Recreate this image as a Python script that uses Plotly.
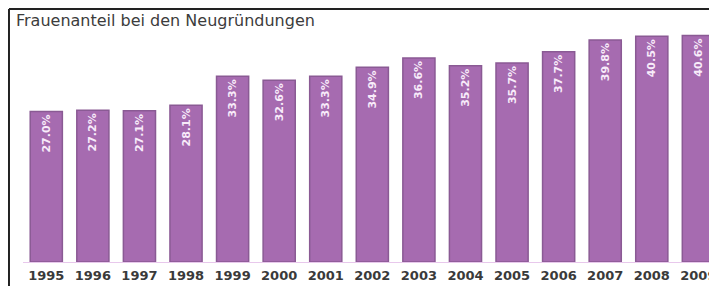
import plotly.graph_objects as go

years = ["1995", "1996", "1997", "1998", "1999", "2000", "2001", "2002",
         "2003", "2004", "2005", "2006", "2007", "2008", "2009"]
share = [27.0, 27.2, 27.1, 28.1, 33.3, 32.6, 33.3, 34.9,
         36.6, 35.2, 35.7, 37.7, 39.8, 40.5, 40.6]
labels = [f"{v:.1f}%" for v in share]
title_text = "Frauenanteil bei den Neugründungen"

fig = go.Figure(go.Bar(
    x=years, y=share, text=labels,
    textposition="inside", insidetextanchor="end", textangle=-90,
    textfont=dict(family="DejaVu Sans", size=11, color="#f8ecfa", weight="bold"),
    marker=dict(color="#a66bb0", line=dict(color="#8a5a94", width=1.5)),
    cliponaxis=False,
))

fig.update_layout(
    width=717, height=286,
    margin=dict(l=15, r=8, t=22, b=32),
    paper_bgcolor="white", plot_bgcolor="white",
    bargap=0.31,
    showlegend=False,
    uniformtext=dict(minsize=8, mode="show"),
    xaxis=dict(type="category", range=[-0.5, 14.4], showgrid=False, zeroline=False,
               showline=True, linecolor="#e8c8ec", linewidth=1, ticks="",
               tickfont=dict(family="DejaVu Sans", size=13, color="#3a3a3a", weight="bold"),
               ticklabelstandoff=1),
    yaxis=dict(range=[0, 41.6], visible=False),
    annotations=[dict(text=title_text, xref="paper", yref="paper", x=-0.013, y=1.043,
                      xanchor="left", yanchor="middle", showarrow=False,
                      font=dict(family="DejaVu Sans", size=16, color="#3c3c3c"))],
    shapes=[
        dict(type="line", xref="paper", yref="paper", x0=-0.0202, x1=-0.0202, y0=1.0905, y1=-0.2,
             line=dict(color="#222", width=2)),
        dict(type="line", xref="paper", yref="paper", x0=-0.0202, x1=1.02, y0=1.0905, y1=1.0905,
             line=dict(color="#222", width=2)),
    ],
)

fig.write_html("out.html")
